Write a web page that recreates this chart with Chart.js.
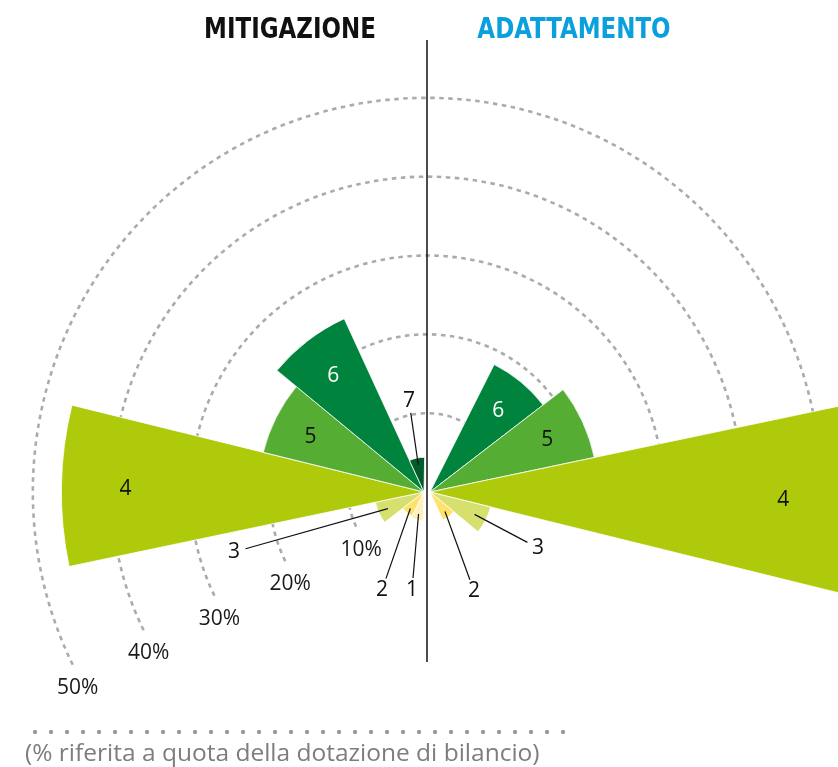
<!DOCTYPE html>
<html lang="it">
<head>
<meta charset="utf-8">
<title>Mitigazione e adattamento</title>
<script src="https://cdn.jsdelivr.net/npm/chart.js@4.4.1/dist/chart.umd.min.js"></script>
<style>
  html, body { margin: 0; padding: 0; background: #fff; overflow: hidden; }
  #page { position: relative; width: 838px; height: 767px; overflow: hidden; }
  #chart { position: absolute; left: -46px; top: 19px; }
  .title {
    position: absolute; top: 14px; line-height: 29px;
    font-family: "Liberation Sans Narrow", "DejaVu Sans Condensed", sans-serif;
    font-weight: bold; font-size: 29px; white-space: nowrap;
    transform: translateX(-50%) scaleX(0.88);
  }
  #t-mit { left: 290px; color: #111; }
  #t-ada { left: 574px; color: #0aa0de; }
  #dots {
    position: absolute; left: 27px; top: 724px; width: 544px; height: 16px;
    background-image: radial-gradient(circle, #999 1.8px, rgba(153,153,153,0) 2.5px);
    background-size: 16px 16px;
  }
  #note {
    position: absolute; left: 25px; top: 740px; line-height: 24px;
    font-family: "Open Sans", sans-serif; font-size: 24.5px; color: #7d7d7d; white-space: nowrap;
  }
</style>
</head>
<body>
<div id="page">
  <canvas id="chart" width="946" height="946"></canvas>
  <div class="title" id="t-mit">MITIGAZIONE</div>
  <div class="title" id="t-ada">ADATTAMENTO</div>
  <div id="dots"></div>
  <div id="note">(% riferita a quota della dotazione di bilancio)</div>
</div>
<script>
// data (% of budget) per category
const categories = ['1', '2', '3', '4', '5', '6', '7'];
const mitigazione = [3.6, 3.4, 6.3, 46, 21, 24.2, 4.4];
const adattamento = [0, 3.9, 7.9, 54, 21.3, 18.1, 0];
const ringTicks = [10, 20, 30, 40, 50];
const tickLabels = ['10%', '20%', '30%', '40%', '50%'];

const colours = ['#fff0bf', '#fee26a', '#d6e06e', '#afca0b', '#56ad34', '#00843d', '#005c28'];

// slices clockwise from the top: adattamento 7..1 on the right, mitigazione 1..7 on the left
const sliceCat = categories.slice().reverse().concat(categories);
const sliceVal = adattamento.slice().reverse().concat(mitigazione);
const sliceSide = sliceCat.map((c, i) => i < 7 ? 'ada' : 'mit');

// small slices get their number outside, with a leader line (offset from centre, px)
const callouts = {
  mit7: [-15, -91], mit3: [-190, 60], mit2: [-42, 98], mit1: [-12, 98],
  ada3: [108, 56], ada2: [44, 99]
};

const rad = d => d * Math.PI / 180;
const labelFont = '21px "Open Sans", sans-serif';

const polarDecor = {
  id: 'polarDecor',
  afterDatasetsUpdate(chart) {
    // the two halves sit a few px apart either side of the divider
    const r = chart.scales.r;
    chart.getDatasetMeta(0).data.forEach((el, i) => {
      el.x = r.xCenter + (i < 7 ? 3 : -3);
    });
  },
  beforeDatasetsDraw(chart) {
    const r = chart.scales.r, ctx = chart.ctx;
    ctx.save();
    ctx.strokeStyle = '#ababab';
    ctx.lineWidth = 2.6;
    ctx.setLineDash([4.5, 4.5]);
    ringTicks.forEach(v => {
      ctx.beginPath();
      ctx.arc(r.xCenter, r.yCenter, r.getDistanceFromCenterForValue(v), rad(154), rad(360));
      ctx.stroke();
    });
    ctx.restore();
  },
  afterDatasetsDraw(chart) {
    const r = chart.scales.r, ctx = chart.ctx;
    const meta = chart.getDatasetMeta(0);
    ctx.save();

    // divider
    ctx.strokeStyle = '#111';
    ctx.lineWidth = 1.5;
    ctx.beginPath();
    ctx.moveTo(r.xCenter, r.yCenter - 452);
    ctx.lineTo(r.xCenter, r.yCenter + 170);
    ctx.stroke();

    ctx.font = labelFont;
    ctx.textAlign = 'center';
    ctx.textBaseline = 'middle';

    // ring labels
    ctx.fillStyle = '#1a1a1a';
    ringTicks.forEach((v, k) => {
      const d = r.getDistanceFromCenterForValue(v);
      ctx.fillText(tickLabels[k], r.xCenter + Math.cos(rad(154)) * d + 5, r.yCenter + Math.sin(rad(154)) * d + 23);
    });

    // slice numbers
    meta.data.forEach((el, i) => {
      if (!sliceVal[i]) return;
      const mid = (el.startAngle + el.endAngle) / 2;
      const R = el.outerRadius;
      const c = callouts[sliceSide[i] + sliceCat[i]];
      if (c) {
        const ax = el.x + Math.cos(mid) * R * 0.8, ay = el.y + Math.sin(mid) * R * 0.8;
        const lx = el.x + c[0], ly = el.y + c[1];
        const len = Math.hypot(ax - lx, ay - ly);
        ctx.strokeStyle = '#111';
        ctx.lineWidth = 1.2;
        ctx.beginPath();
        ctx.moveTo(lx + (ax - lx) / len * 12, ly + (ay - ly) / len * 12);
        ctx.lineTo(ax, ay);
        ctx.stroke();
        ctx.fillStyle = '#111';
        ctx.fillText(sliceCat[i], lx, ly);
      } else {
        const d = 0.87 * R - 17;
        ctx.fillStyle = sliceCat[i] === '6' ? '#fff' : '#111';
        ctx.fillText(sliceCat[i], el.x + Math.cos(mid) * d, el.y + Math.sin(mid) * d + 2);
      }
    });
    ctx.restore();
  }
};

new Chart(document.getElementById('chart'), {
  type: 'polarArea',
  data: {
    labels: sliceCat.map((c, i) => (sliceSide[i] === 'mit' ? 'Mitigazione ' : 'Adattamento ') + c),
    datasets: [{
      data: sliceVal,
      backgroundColor: sliceCat.map(c => colours[Number(c) - 1]),
      borderColor: '#fff',
      borderWidth: 0.8
    }]
  },
  options: {
    responsive: false,
    animation: false,
    events: [],
    layout: { padding: 0 },
    plugins: { legend: { display: false }, tooltip: { enabled: false } },
    scales: {
      r: {
        min: 0,
        max: 60,
        startAngle: 1,
        ticks: { display: false, stepSize: 10 },
        grid: { display: false },
        angleLines: { display: false },
        pointLabels: { display: false }
      }
    }
  },
  plugins: [polarDecor]
});
</script>
</body>
</html>
